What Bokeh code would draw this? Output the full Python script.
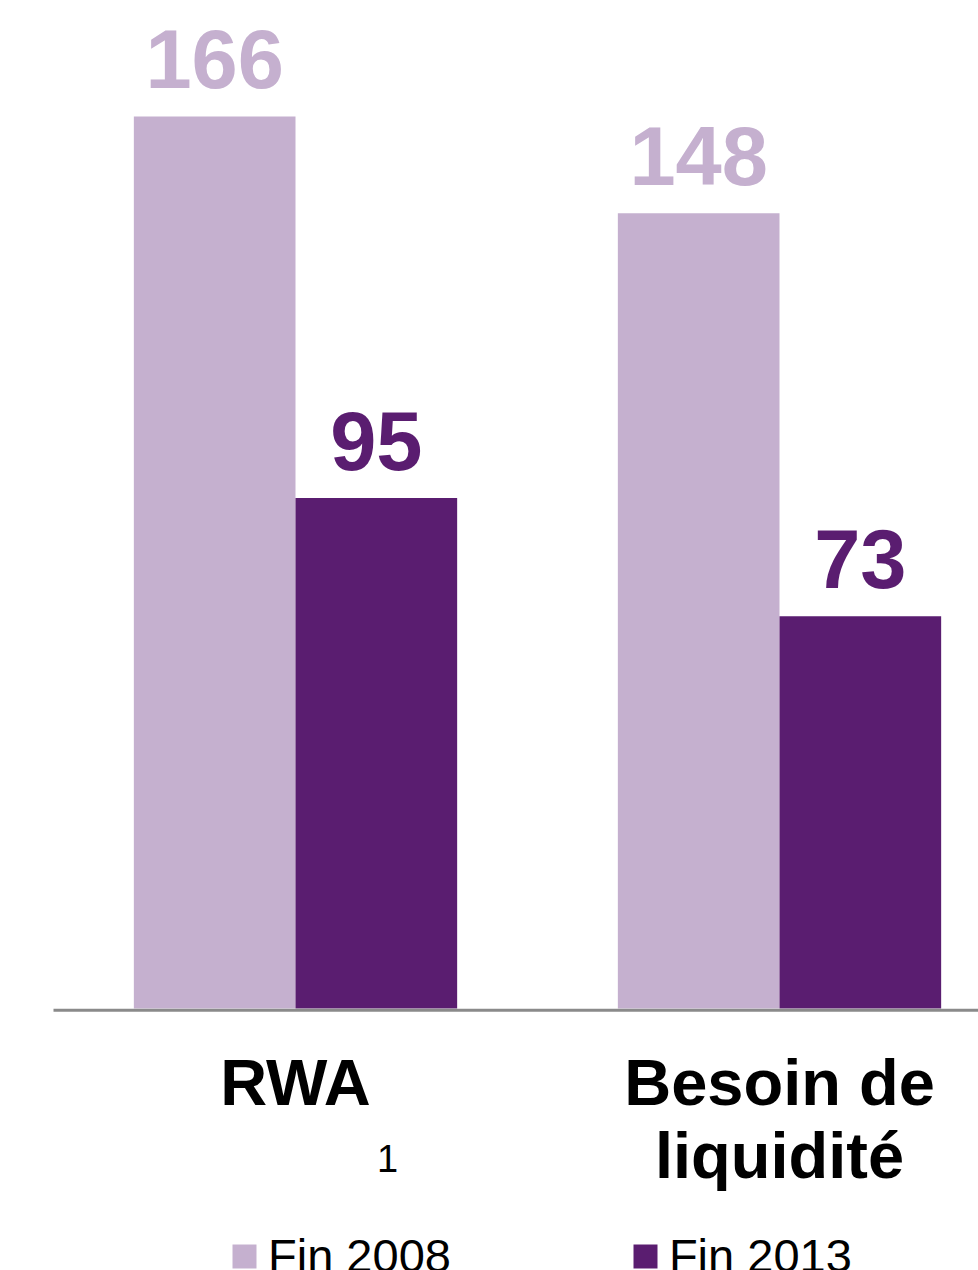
from bokeh.plotting import figure
from bokeh.models import ColumnDataSource, Range1d, Legend, LegendItem
from bokeh.core.properties import value
from bokeh.transform import dodge
from bokeh.embed import file_html
from bokeh.resources import INLINE

# ---- data ----
categories = ["RWA", "Besoin de\nliquidité"]
series_names = ["Fin 2008", "Fin 2013"]
fin_2008 = [166, 148]
fin_2013 = [95, 73]
footnotes = ["1", ""]
colors = ["#C5B0CF", "#5A1D70"]

idx = list(range(len(categories)))
src = ColumnDataSource(dict(
    x=idx, cat=categories, foot=footnotes,
    s2008=fin_2008, s2013=fin_2013,
    l2008=[str(v) for v in fin_2008], l2013=[str(v) for v in fin_2013],
))

W, H = 978, 1270
PX_X = 484.0      # pixels per category slot
PX_Y = 5.3735     # pixels per unit
BASE_PX = 1008.0  # baseline distance from top of figure
X0 = -295.0 / PX_X

p = figure(width=W, height=H, output_backend="svg", toolbar_location=None,
           x_range=Range1d(X0, X0 + W / PX_X),
           y_range=Range1d(-(H - BASE_PX) / PX_Y, BASE_PX / PX_Y),
           x_axis_type=None, y_axis_type=None, min_border=0,
           outline_line_color=None, background_fill_color="white")
p.grid.visible = False

BW = 0.334
off = BW / 2
r1 = p.vbar(x=dodge("x", -off), top="s2008", bottom=0, width=BW, source=src,
            fill_color=colors[0], line_color=None)
r2 = p.vbar(x=dodge("x", off), top="s2013", bottom=0, width=BW, source=src,
            fill_color=colors[1], line_color=None)

# baseline
p.segment(x0=-0.5, y0=-0.33, x1=len(categories) - 0.5, y1=-0.33,
          line_color="#8A8A8A", line_width=3)

font = value("Liberation Sans")
p.text(x=dodge("x", -off), y="s2008", text="l2008", source=src,
       text_align="center", text_baseline="alphabetic", y_offset=-57,
       text_font=font, text_font_style="bold", text_font_size="83px",
       text_color=colors[0])
p.text(x=dodge("x", off), y="s2013", text="l2013", source=src,
       text_align="center", text_baseline="alphabetic", y_offset=-57,
       text_font=font, text_font_style="bold", text_font_size="83px",
       text_color=colors[1])

# category labels
p.text(x="x", y=0, text="cat", source=src, text_align="center",
       text_baseline="top", y_offset=37, line_height=1.01,
       text_font=font, text_font_style="bold", text_font_size="65px",
       text_color="black")
# footnote marker
p.text(x="x", y=0, text="foot", source=src, text_align="center",
       text_baseline="alphabetic", x_offset=92, y_offset=150,
       text_font=font, text_font_size="38px", text_color="black")

legend = Legend(items=[LegendItem(label=series_names[0], renderers=[r1]),
                       LegendItem(label=series_names[1], renderers=[r2])],
                location=(229, -13), orientation="horizontal",
                glyph_width=30, glyph_height=30, label_standoff=9,
                spacing=179, padding=0, margin=0,
                border_line_color=None, background_fill_alpha=0,
                label_text_font="Liberation Sans", label_text_font_size="47px",
                label_text_color="black")
p.add_layout(legend, "center")

open("out.html", "w").write(file_html(p, INLINE))
